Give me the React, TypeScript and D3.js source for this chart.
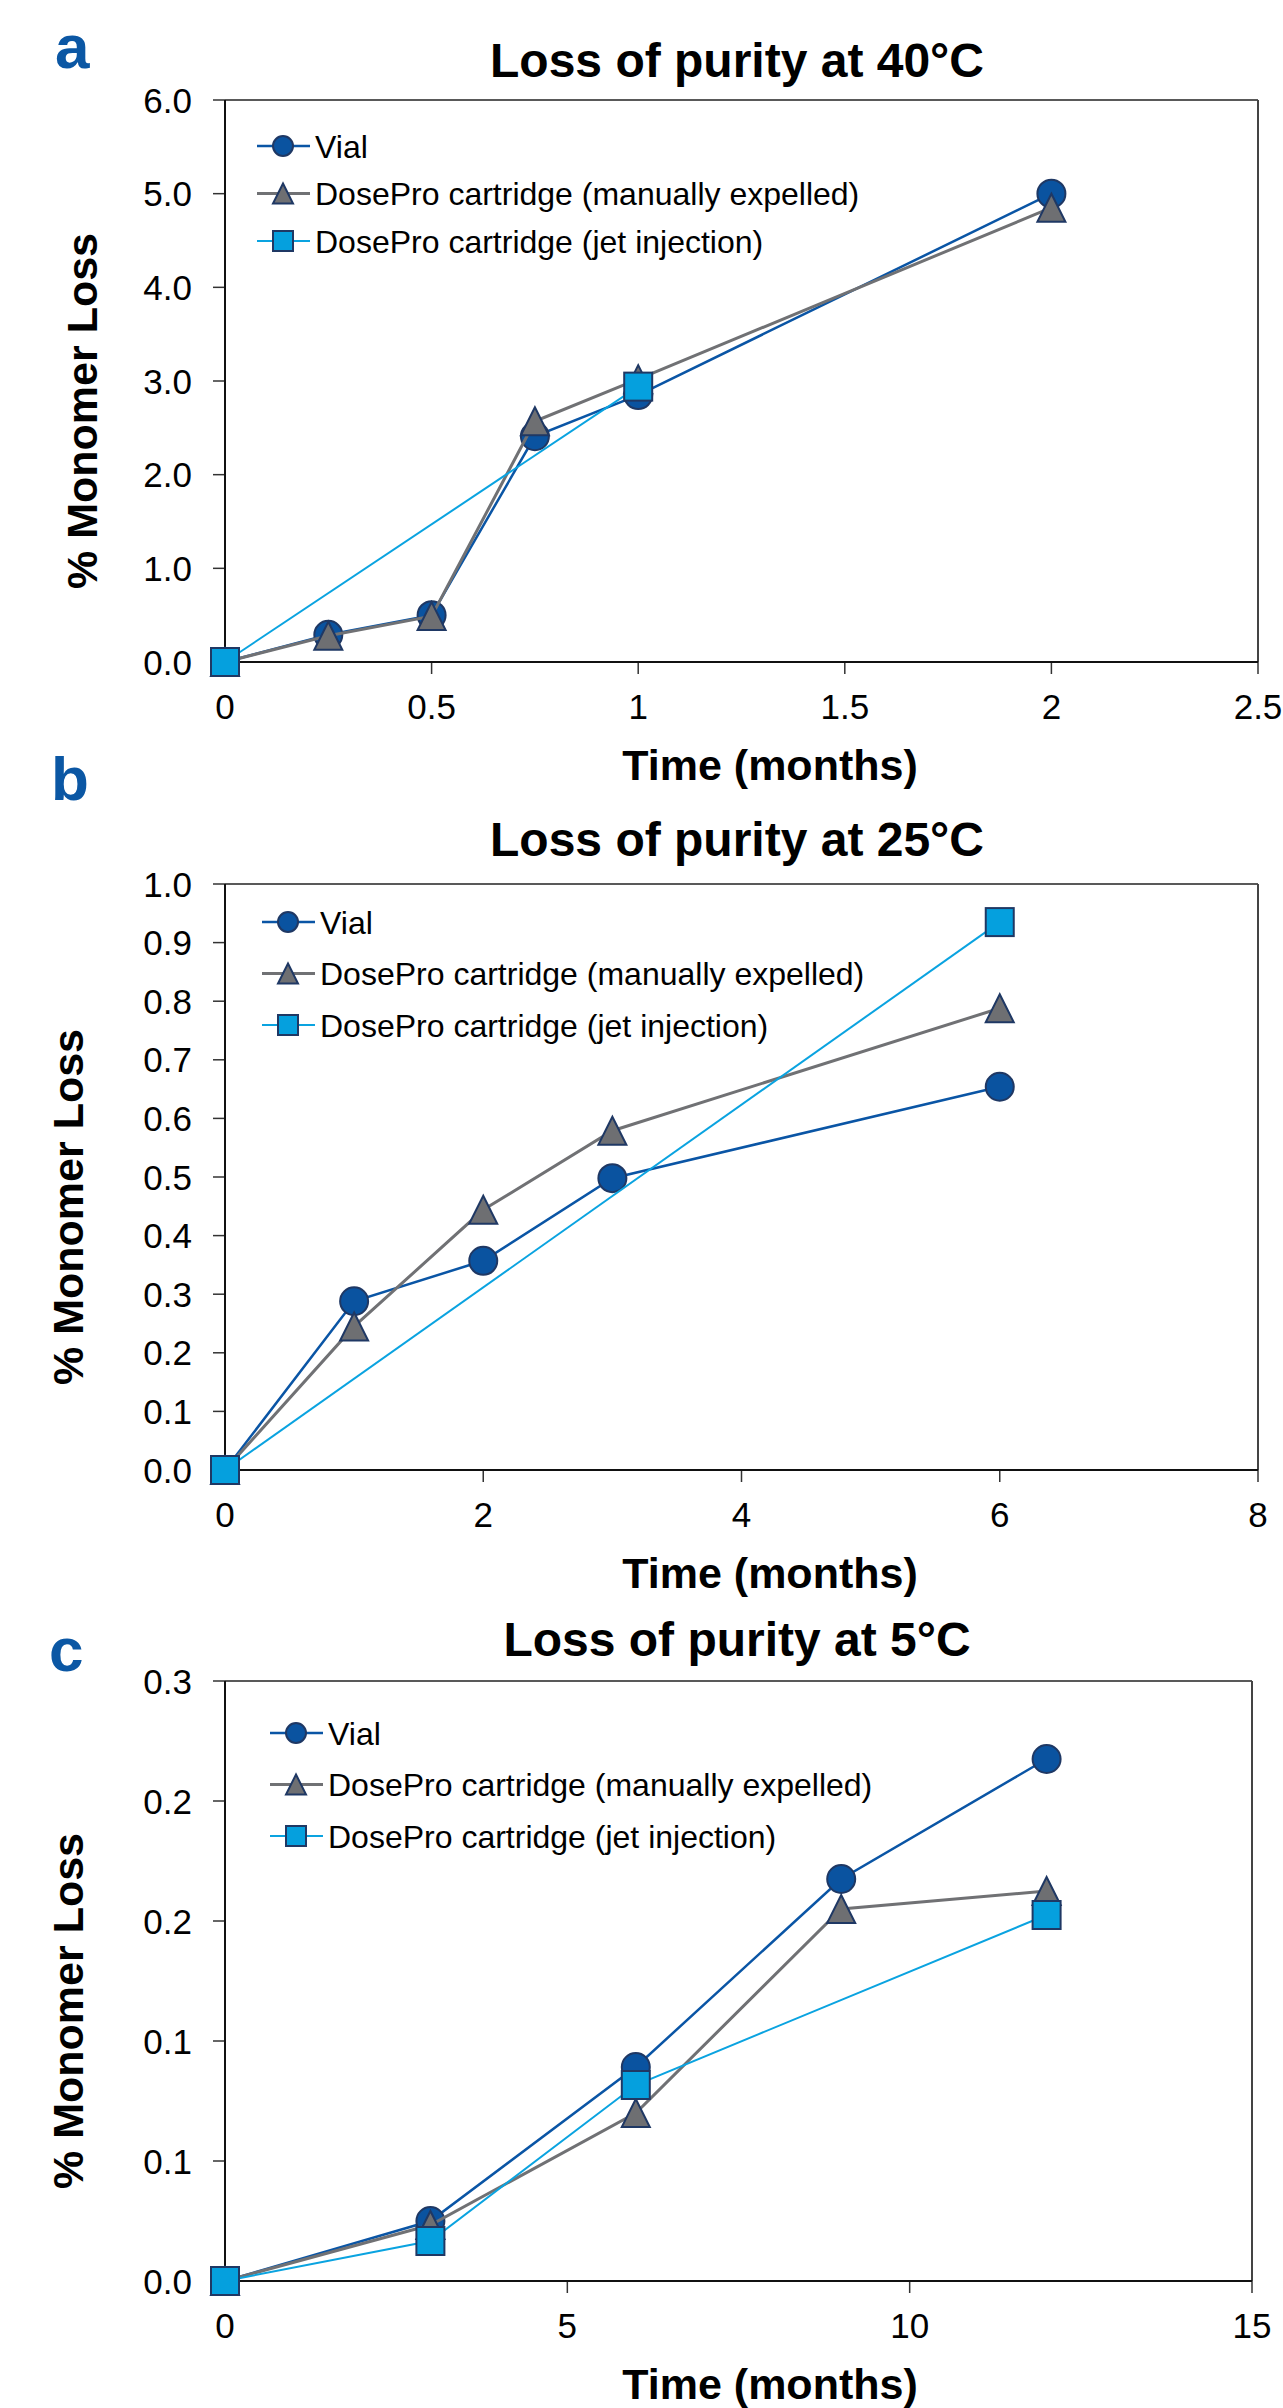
import React from 'react';
import * as d3 from 'd3';

// series names
const seriesNames = ['Vial', 'DosePro cartridge (manually expelled)', 'DosePro cartridge (jet injection)'];

// panel a - 40°C
const aTime = [0, 0.25, 0.5, 0.75, 1, 2];
const aVial = [0, 0.29, 0.5, 2.41, 2.85, 5.0];
const aManual = [0, 0.28, 0.49, 2.57, 3.02, 4.85];
const aJetTime = [0, 1];
const aJet = [0, 2.94];
const aXTicks = [0, 0.5, 1, 1.5, 2, 2.5];
const aYTicks = [0, 1, 2, 3, 4, 5, 6];

// panel b - 25°C
const bTime = [0, 1, 2, 3, 6];
const bVial = [0, 0.288, 0.357, 0.498, 0.654];
const bManual = [0, 0.245, 0.444, 0.579, 0.788];
const bJetTime = [0, 6];
const bJet = [0, 0.935];
const bXTicks = [0, 2, 4, 6, 8];
const bYTicks = [0, 0.1, 0.2, 0.3, 0.4, 0.5, 0.6, 0.7, 0.8, 0.9, 1.0];

// panel c - 5°C
const cTime = [0, 3, 6, 9, 12];
const cVial = [0, 0.03, 0.107, 0.201, 0.261];
const cManual = [0, 0.028, 0.084, 0.186, 0.195];
const cJetTime = [0, 3, 6, 12];
const cJet = [0, 0.02, 0.098, 0.183];
const cXTicks = [0, 5, 10, 15];
const cYTicks = [0, 0.06, 0.12, 0.18, 0.24, 0.3];

const FONT = '"Liberation Sans", Arial, Helvetica, sans-serif';
const NAVY = '#1f3864';
const colors = { vial: '#0a53a0', manual: '#6e6f72', jet: '#05a0de' };
const lineColors = { vial: '#0a55a5', manual: '#707174', jet: '#0aa3e0' };

type Pt = [number, number];

function Marker({ kind, x, y, s }: { kind: string; x: number; y: number; s: number }) {
  if (kind === 'vial') return <circle cx={x} cy={y} r={s / 2} fill={colors.vial} stroke={NAVY} strokeWidth={2} />;
  if (kind === 'manual') {
    const h = s / 2;
    return <path d={`M${x},${y - h} L${x + h},${y + h} L${x - h},${y + h} Z`} fill={colors.manual} stroke={NAVY} strokeWidth={2} strokeLinejoin="miter" />;
  }
  return <rect x={x - s / 2} y={y - s / 2} width={s} height={s} fill={colors.jet} stroke={NAVY} strokeWidth={2} />;
}

function Panel(props: any) {
  const { letter, title, left, right, top, bottom, xMax, yMax, xTicks, yTicks, series, legend, yLabelX, titleY, letterPos } = props;
  const x = d3.scaleLinear().domain([0, xMax]).range([left, right]);
  const y = d3.scaleLinear().domain([0, yMax]).range([bottom, top]);
  const line = d3.line<Pt>().x(d => x(d[0])).y(d => y(d[1]));
  const widths: any = { vial: 2.5, manual: 3, jet: 2 };

  return (
    <g>
      <text x={letterPos[0]} y={letterPos[1]} fontFamily={FONT} fontWeight="bold" fontSize={62} fill="#0b57a4">{letter}</text>
      <text x={737} y={titleY} textAnchor="middle" fontFamily={FONT} fontWeight="bold" fontSize={48}>{title}</text>
      {/* frame */}
      <line x1={left} x2={right} y1={top} y2={top} stroke="#222" strokeWidth={1.5} />
      <line x1={right} x2={right} y1={top} y2={bottom} stroke="#444" strokeWidth={2} />
      {yTicks.map((t: number) => (
        <g key={'y' + t}>
          <line x1={left - 12} x2={left} y1={y(t)} y2={y(t)} stroke="#333" strokeWidth={1.5} />
          <text x={left - 33} y={y(t)} dy="0.36em" textAnchor="end" fontFamily={FONT} fontSize={35}>{t.toFixed(1)}</text>
        </g>
      ))}
      {xTicks.map((t: number) => (
        <g key={'x' + t}>
          <line x1={x(t)} x2={x(t)} y1={bottom} y2={bottom + 12} stroke="#333" strokeWidth={1.5} />
          <text x={x(t)} y={bottom + 57} textAnchor="middle" fontFamily={FONT} fontSize={35}>{d3.format('~g')(t)}</text>
        </g>
      ))}
      <line x1={left} x2={left} y1={top} y2={bottom} stroke="#111" strokeWidth={2} />
      <line x1={left} x2={right} y1={bottom} y2={bottom} stroke="#111" strokeWidth={2} />
      <text transform={`translate(${yLabelX},${(top + bottom) / 2 + 30}) rotate(-90)`} textAnchor="middle" dy="0.36em" fontFamily={FONT} fontWeight="bold" fontSize={43}>% Monomer Loss</text>
      <text x={770} y={bottom + 118} textAnchor="middle" fontFamily={FONT} fontWeight="bold" fontSize={43}>Time (months)</text>
      {series.map((s: any) => (
        <g key={s.kind}>
          <path d={line(s.pts) || ''} fill="none" stroke={(lineColors as any)[s.kind]} strokeWidth={widths[s.kind]} />
          {s.pts.map((p: Pt, i: number) => (
            <Marker key={i} kind={s.kind} x={x(p[0])} y={y(p[1])} s={28} />
          ))}
        </g>
      ))}
      {/* legend */}
      {['vial', 'manual', 'jet'].map((k, i) => {
        const ly = legend.y + i * legend.dy;
        return (
          <g key={'lg' + k}>
            <line x1={legend.x} x2={legend.x + 53} y1={ly} y2={ly} stroke={(lineColors as any)[k]} strokeWidth={widths[k]} />
            <Marker kind={k} x={legend.x + 26} y={ly} s={20} />
            <text x={legend.x + 58} y={ly} dy="0.36em" fontFamily={FONT} fontSize={32}>{seriesNames[i]}</text>
          </g>
        );
      })}
    </g>
  );
}

const zip = (a: number[], b: number[]): Pt[] => a.map((v, i) => [v, b[i]]);

export default function App() {
  return (
    <svg width={1283} height={2408} style={{ position: 'absolute', left: 0, top: 0, background: '#fff' }}>
      <rect width={1283} height={2408} fill="#fff" />
      <Panel
        letter="a" title="Loss of purity at 40°C" left={225} right={1258} top={100} bottom={662}
        xMax={2.5} yMax={6} xTicks={aXTicks} yTicks={aYTicks} yLabelX={82} titleY={77} letterPos={[55, 68]}
        legend={{ x: 257, y: 146, dy: 47.5 }}
        series={[
          { kind: 'vial', pts: zip(aTime, aVial) },
          { kind: 'manual', pts: zip(aTime, aManual) },
          { kind: 'jet', pts: zip(aJetTime, aJet) },
        ]}
      />
      <Panel
        letter="b" title="Loss of purity at 25°C" left={225} right={1258} top={884} bottom={1470}
        xMax={8} yMax={1} xTicks={bXTicks} yTicks={bYTicks} yLabelX={68} titleY={856} letterPos={[51, 800]}
        legend={{ x: 262, y: 922, dy: 51.5 }}
        series={[
          { kind: 'vial', pts: zip(bTime, bVial) },
          { kind: 'manual', pts: zip(bTime, bManual) },
          { kind: 'jet', pts: zip(bJetTime, bJet) },
        ]}
      />
      <Panel
        letter="c" title="Loss of purity at 5°C" left={225} right={1252} top={1681} bottom={2281}
        xMax={15} yMax={0.3} xTicks={cXTicks} yTicks={cYTicks} yLabelX={68} titleY={1656} letterPos={[49, 1671]}
        legend={{ x: 270, y: 1733, dy: 51.5 }}
        series={[
          { kind: 'vial', pts: zip(cTime, cVial) },
          { kind: 'manual', pts: zip(cTime, cManual) },
          { kind: 'jet', pts: zip(cJetTime, cJet) },
        ]}
      />
    </svg>
  );
}
